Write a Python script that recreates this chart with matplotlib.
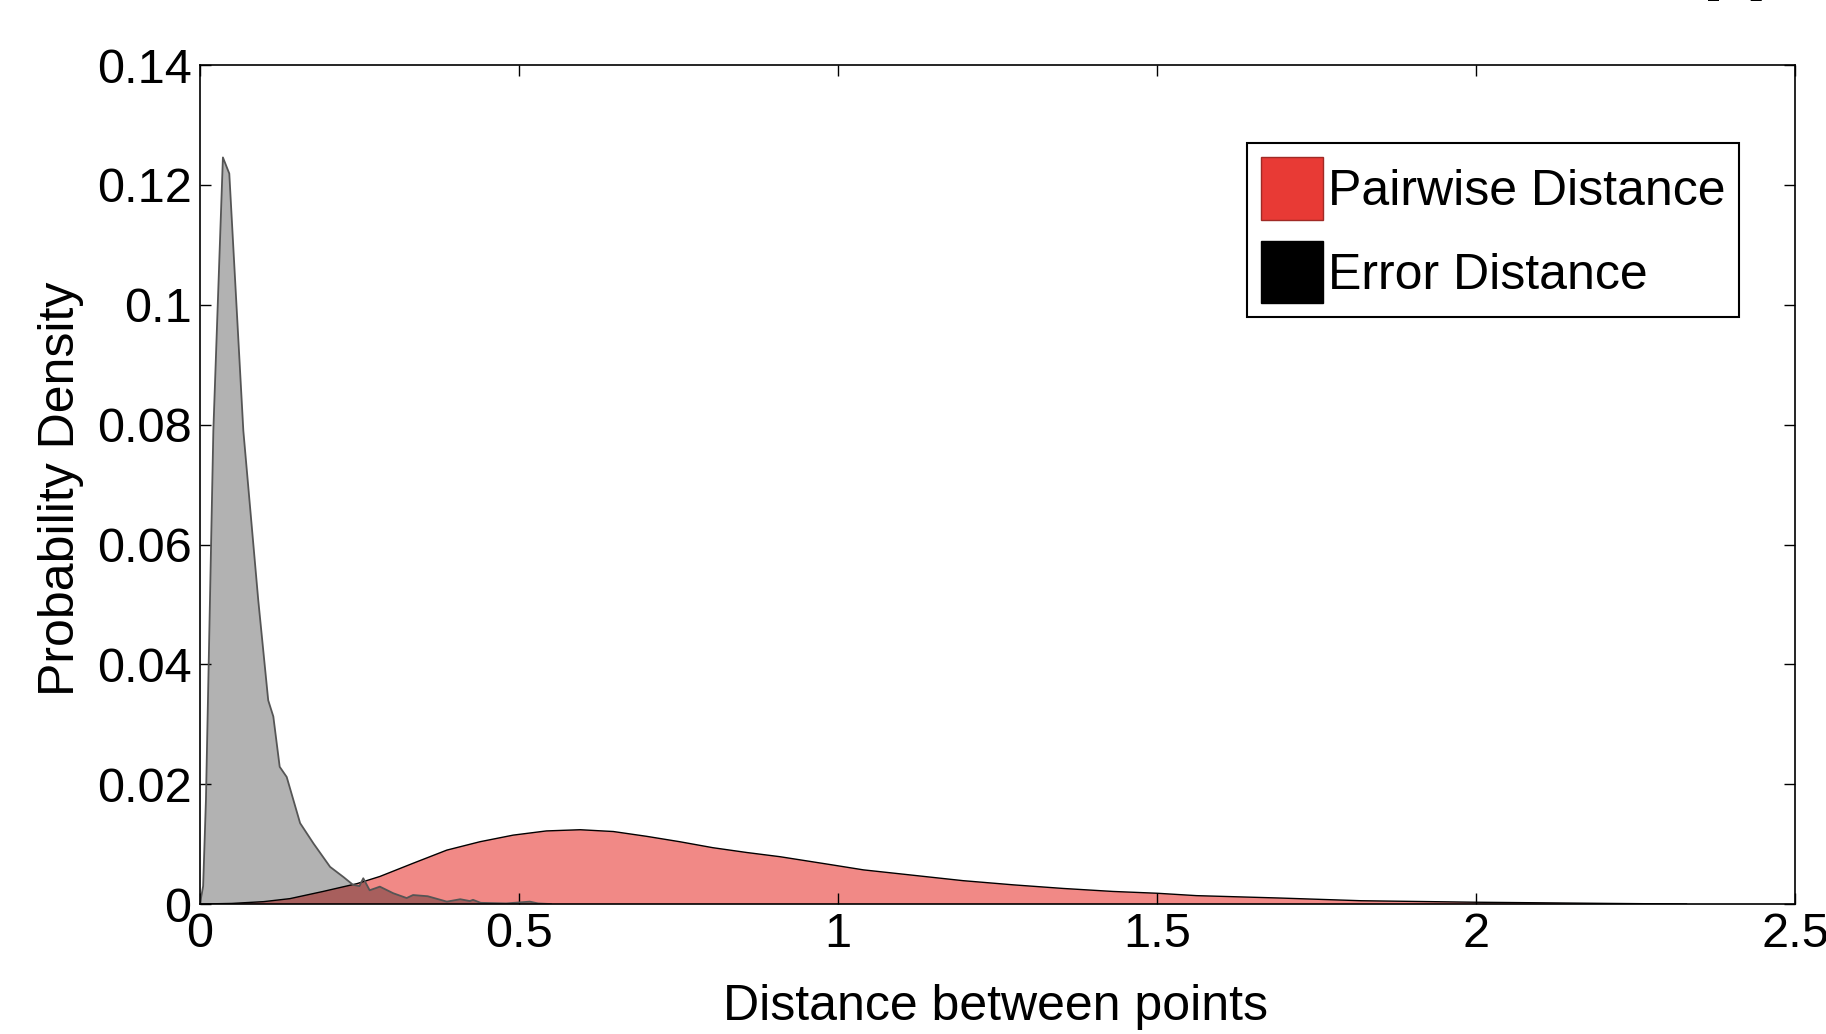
import matplotlib
matplotlib.use('Agg')
from matplotlib import pyplot as plt
from matplotlib.patches import Patch

plt.rcParams['font.family'] = ['Liberation Sans', 'DejaVu Sans']

# Error distance density (gray)
err_x = [0.0, 0.005, 0.0094, 0.0157, 0.021, 0.036, 0.046, 0.068, 0.0914, 0.107,
         0.115, 0.125, 0.136, 0.157, 0.178, 0.204, 0.225, 0.240, 0.250, 0.256,
         0.266, 0.282, 0.303, 0.324, 0.334, 0.357, 0.387, 0.408, 0.423, 0.428,
         0.44, 0.48, 0.517, 0.53, 0.55]
err_y = [0.0, 0.003, 0.0174, 0.0507, 0.079, 0.1246, 0.1219, 0.079, 0.0507, 0.034,
         0.0313, 0.0229, 0.0212, 0.0135, 0.0101, 0.0062, 0.0045, 0.0032, 0.0030, 0.0043,
         0.0023, 0.0029, 0.0018, 0.0010, 0.0015, 0.0013, 0.0004, 0.0008, 0.0005, 0.0007,
         0.0002, 0.0001, 0.0004, 0.0001, 0.0]

# Pairwise distance density (red)
pair_x = [0.0, 0.05, 0.10, 0.141, 0.193, 0.246, 0.282, 0.334, 0.387, 0.439, 0.491,
          0.543, 0.596, 0.648, 0.70, 0.752, 0.804, 0.857, 0.909, 0.987, 1.04,
          1.118, 1.196, 1.275, 1.353, 1.431, 1.5, 1.562, 1.693, 1.82, 2.0, 2.21, 2.33]
pair_y = [0.0, 0.0001, 0.0004, 0.0009, 0.0021, 0.0034, 0.0046, 0.0068, 0.0090, 0.0104, 0.0115,
          0.0122, 0.0124, 0.0121, 0.0113, 0.0104, 0.0094, 0.0086, 0.0079, 0.0066, 0.0057,
          0.0048, 0.0039, 0.0032, 0.0026, 0.0021, 0.0018, 0.0014, 0.0010, 0.00055, 0.0003, 0.0001, 0.0]

xticks = [0, 0.5, 1, 1.5, 2, 2.5]
xlabels = ['0', '0.5', '1', '1.5', '2', '2.5']
yticks = [0, 0.02, 0.04, 0.06, 0.08, 0.1, 0.12, 0.14]
ylabels = ['0', '0.02', '0.04', '0.06', '0.08', '0.1', '0.12', '0.14']

red = '#e83a35'

fig = plt.figure(figsize=(18.26, 10.34), dpi=100)
ax = fig.add_axes([0.1095, 0.1257, 0.8735, 0.8113])

ax.fill_between(pair_x, pair_y, 0, facecolor=red, alpha=0.6, edgecolor='none')
ax.plot(pair_x, pair_y, color='black', lw=1.0)
ax.fill_between(err_x, err_y, 0, facecolor='black', alpha=0.3, edgecolor='none')
ax.plot(err_x, err_y, color='#555555', lw=1.3)

ax.set_xlim(0, 2.5)
ax.set_ylim(0, 0.14)
ax.set_xticks(xticks)
ax.set_xticklabels(xlabels)
ax.set_yticks(yticks)
ax.set_yticklabels(ylabels)
ax.tick_params(direction='in', top=True, right=True, length=8, width=1,
               labelsize=35, pad=6)
for s in ax.spines.values():
    s.set_linewidth(1.2)

ax.set_xlabel('Distance between points', fontsize=36, va='top')
ax.xaxis.set_label_coords(0.499, -0.095)
ax.set_ylabel('Probability Density', fontsize=36)
ax.yaxis.set_label_coords(-0.0727, 0.495)

handles = [Patch(facecolor=red, edgecolor='#a02a25'),
           Patch(facecolor='black', edgecolor='black')]
leg = ax.legend(handles, ['Pairwise Distance', 'Error Distance'],
                loc='upper right', bbox_to_anchor=(0.965, 0.907), fontsize=36,
                handlelength=1.24, handleheight=1.55, handletextpad=0.1,
                labelspacing=0.42, borderpad=0.28, borderaxespad=0,
                fancybox=False, framealpha=1, edgecolor='black')
leg.get_frame().set_linewidth(1.5)

# panel label cut off at the top edge
fig.text(0.950, 1.0106, '[b]', fontsize=40, ha='center', va='baseline')

fig.savefig('out.png', dpi=100)
